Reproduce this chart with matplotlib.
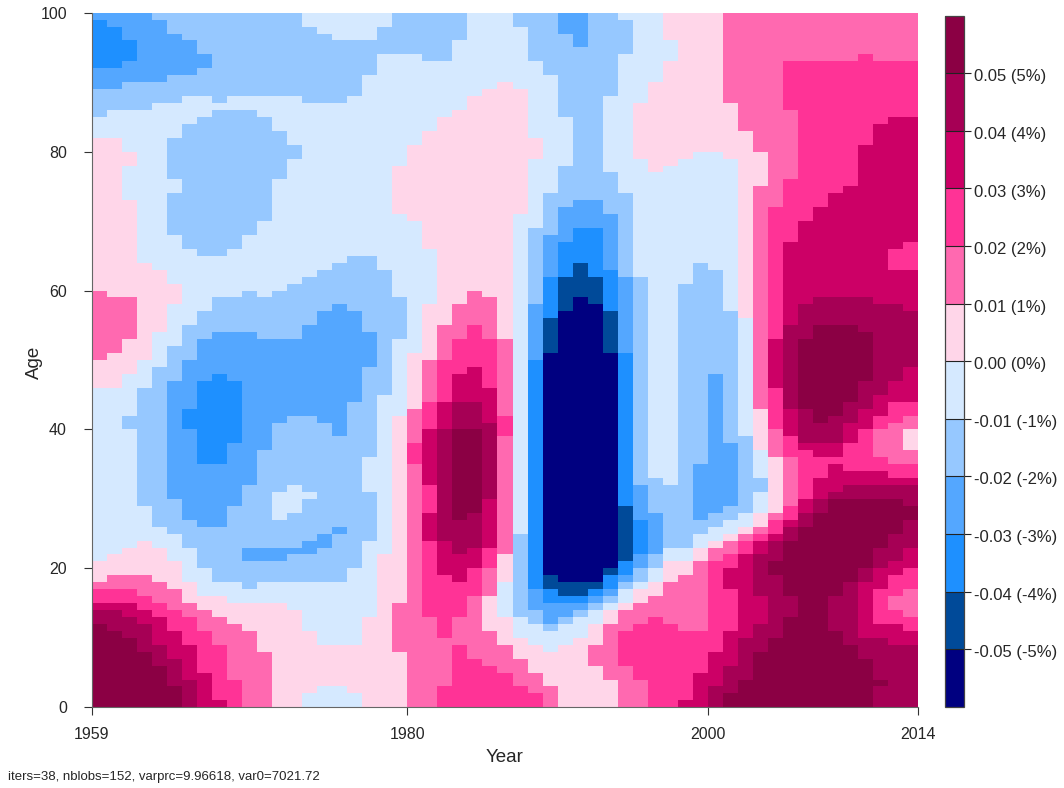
#!/usr/bin/env python3

"""Relative mortality change surface by year and age, on a binned colour scale."""

import matplotlib

matplotlib.use("Agg")

import matplotlib.pyplot as plt
import numpy as np
from matplotlib.colors import BoundaryNorm, ListedColormap
from matplotlib.transforms import ScaledTranslation

plt.rcParams["font.family"] = ["Liberation Sans", "DejaVu Sans"]

YEAR_EDGES = list(range(1959, 2015))
AGE_EDGES = list(range(0, 101))
YEAR_TICKS = [1959, 1980, 2000, 2014]
AGE_TICKS = [0, 20, 40, 60, 80, 100]

LEVELS = [-0.06, -0.05, -0.04, -0.03, -0.02, -0.01, 0.0, 0.01, 0.02, 0.03, 0.04, 0.05, 0.06]
LEVEL_COLORS = [
    "#000080", "#004a99", "#1e90ff", "#54a7ff", "#96c8ff", "#d5e9ff",
    "#ffd6e9", "#ff69b0", "#ff3396", "#cc0066", "#a60055", "#8b0044",
]
BAR_TICKS = [0.05, 0.04, 0.03, 0.02, 0.01, 0.0, -0.01, -0.02, -0.03, -0.04, -0.05]
BAR_LABELS = [
    "0.05 (5%)", "0.04 (4%)", "0.03 (3%)", "0.02 (2%)", "0.01 (1%)", "0.00 (0%)",
    "-0.01 (-1%)", "-0.02 (-2%)", "-0.03 (-3%)", "-0.04 (-4%)", "-0.05 (-5%)",
]
FOOTER = "iters=38, nblobs=152, varprc=9.96618, var0=7021.72"

# one string per year, bottom to top: bin letter (a = lowest bin) + age where it stops
YEAR_RUNS = [
    "l12 k14 j15 i17 h18 g21 f46 g50 h60 g82 f85 e89 d92 c99 d100",
    "l11 k14 j15 i17 h19 g22 f46 g51 h59 g82 f86 e89 d92 c98 d100",
    "l10 k13 j15 i17 h19 g23 f40 e42 f48 g53 h59 g73 f78 g80 f86 e90 d93 c96 d100",
    "l8 k12 j14 i16 h19 g24 f29 e46 f50 g64 f86 e90 d100",
    "l6 k9 j13 i15 h18 g23 f26 e49 f54 g63 f87 e90 d99 e100",
    "l3 k7 j11 i14 h17 g21 f25 e30 d47 e52 f58 g61 f68 e74 f76 e82 f87 e91 d97 e100",
    "k4 j9 i13 h15 g18 f23 e27 d40 c43 d50 e55 f66 e84 f88 e91 d96 e100",
    "j5 i11 h14 g16 f20 e26 d35 c47 d53 e57 f65 e85 f88 e92 d94 e100",
    "j1 i9 h13 g16 f18 e26 d35 c48 d54 e59 f65 e86 f87 e100",
    "i4 h12 g15 f18 e29 d38 c47 d54 e59 f66 e86 f88 e100",
    "h11 g15 f17 e21 d23 e32 d54 e60 f68 e86 f88 e100",
    "h8 g15 f18 e21 d23 e37 d53 e59 f70 e85 f88 e100",
    "g15 f18 e21 d23 e27 f31 e41 d53 e60 f76 e83 f88 e100",
    "g14 f18 e22 d23 e28 f32 e42 d53 e61 f79 e81 f88 e100",
    "f2 g11 f18 e22 d24 e30 f31 e42 d55 e62 f87 e98 f100",
    "f3 g9 f18 e23 d25 e41 d57 e63 f87 e97 f100",
    "f3 g9 f18 e25 d26 e39 d58 e64 f87 e96 f100",
    "f2 g9 f20 e44 d57 e65 f88 e96 f100",
    "g13 f24 e31 f36 e49 d54 e65 f91 e96 f100",
    "g22 f45 e63 f94 e98 f100",
    "g8 h15 g42 f53 e59 f71 g78 f94 e100",
    "h35 i38 h43 g51 f70 g81 f94 e100",
    "h13 i24 j28 i32 j40 i44 h50 g58 f66 g83 f93 e100",
    "i3 h10 i19 j24 k40 j44 i50 h55 g85 f93 e100",
    "i9 h13 i18 j22 k27 l40 k44 j48 i53 h58 g86 f96 e100",
    "i7 h16 i20 j23 k28 l40 k44 j49 i55 h60 g88 f100",
    "i6 h11 g16 h20 i23 j30 k41 j46 i53 h59 g89 f100",
    "i5 h9 g13 f18 g22 h39 i42 h53 g90 f100",
    "i3 h7 g10 f13 e25 f71 g89 f98 e100",
    "i2 h5 g9 f12 e14 d17 c50 d58 e69 f79 g82 f93 e100",
    "h3 g8 f11 e12 d15 c17 b19 a51 b56 c62 d68 e74 f91 e100",
    "g9 f12 e13 d15 c16 b18 a57 b62 c67 d72 e78 f85 e97 d100",
    "g10 f13 e14 d15 c16 b18 a59 b64 c69 d73 e95 d100",
    "g6 h9 g12 f14 e15 d16 c17 b18 a58 b62 c69 d73 e100",
    "g4 h12 g14 f15 e16 d17 c19 b20 a51 b57 c63 d71 e77 f88 e100",
    "h6 i11 h14 g15 f17 e18 d19 c21 b29 c51 d62 e74 f94 e99 f100",
    "h4 i12 h15 g17 f18 e20 d22 c27 d32 e62 f79 g87 f100",
    "i13 h16 g18 f20 e22 d28 e33 f77 g90 f100",
    "i12 h18 g21 f23 e32 f78 g93 f96 g100",
    "j1 i11 h19 g21 f23 e61 f79 g100",
    "j5 i11 h21 g23 f25 e27 d35 e64 f80 g100",
    "k3 j8 i21 h23 g24 f26 e28 d48 e63 f80 g100",
    "l2 k6 j11 i17 j20 i22 h24 g25 f27 e29 d38 e57 f79 g87 h100",
    "l4 k10 j22 i24 h25 g26 f28 e39 f56 g83 h100",
    "l8 k12 j16 k22 j24 i25 h26 g28 f31 e33 f37 g43 h75 g80 h100",
    "l10 k19 l21 k24 j25 i27 h28 g36 h40 i46 j53 i72 h100",
    "l13 k16 l24 k26 j27 i29 h36 i39 j43 k55 j67 i76 h86 i93 h100",
    "l26 k28 j30 i37 j38 k43 l53 k58 j70 i93 h100",
    "l28 k30 j33 i36 j38 k41 l55 k59 j72 i93 h100",
    "l11 k16 l30 k31 j35 i36 j38 k42 l55 k59 j74 i93 h100",
    "l9 k18 l30 k32 j34 i38 j41 k44 l55 k59 j75 i93 h100",
    "l7 k10 j18 k20 l30 k32 j34 i40 j43 k47 l54 k59 j81 i94 h100",
    "k3 l4 k10 j12 i17 j20 k23 l30 k32 j34 i36 h40 i42 j45 k58 j84 i93 h100",
    "k9 j12 i14 h16 i19 j21 k25 l30 k32 j33 i35 h41 i44 j47 k58 j63 i66 j85 i93 h100",
    "k9 j11 i13 h17 i20 j23 k27 l29 k32 j33 i35 h37 g40 h42 i44 j49 k57 j63 i67 j85 i93 h100",
]


def decode_runs(runs):
    bins = "abcdefghijkl"
    mids = [(LEVELS[i] + LEVELS[i + 1]) / 2 for i in range(len(bins))]
    z = np.zeros((len(AGE_EDGES) - 1, len(runs)))
    for col, text in enumerate(runs):
        start = 0
        for run in text.split():
            stop = int(run[1:])
            z[start:stop, col] = mids[bins.index(run[0])]
            start = stop
    return z


def main():
    width, height = 1064, 788
    fig = plt.figure(figsize=(width / 100, height / 100), dpi=100)

    ax = fig.add_axes([91.7 / width, 1 - 707.3 / height, 826.6 / width, 694.6 / height])
    cax = fig.add_axes([945 / width, 1 - 706.7 / height, 19 / width, 691 / height])

    cmap = ListedColormap(LEVEL_COLORS)
    norm = BoundaryNorm(LEVELS, cmap.N)
    mesh = ax.pcolormesh(YEAR_EDGES, AGE_EDGES, decode_runs(YEAR_RUNS), cmap=cmap, norm=norm,
                         antialiased=False, linewidth=0)

    ax.set_xlim(1959, 2014)
    ax.set_ylim(0, 100)
    ax.set_xticks(YEAR_TICKS)
    ax.set_yticks(AGE_TICKS)
    ax.tick_params(axis="both", labelsize=11.5, length=5.5, width=0.8, color="#333333",
                   labelcolor="#262626")
    ax.tick_params(axis="x", pad=9)
    ax.tick_params(axis="y", pad=12.3)
    for side in ("top", "right"):
        ax.spines[side].set_visible(False)
    for side in ("left", "bottom"):
        ax.spines[side].set_color("#666666")
        ax.spines[side].set_linewidth(0.8)

    fig.text(505 / width, 1 - 757.5 / height, "Year", fontsize=13.5, color="#262626",
             ha="center", va="center")
    fig.text(34 / width, 1 - 362 / height, "Age", fontsize=13.5, color="#262626",
             rotation=90, ha="center", va="center")
    fig.text(8 / width, 1 - 777 / height, FOOTER, fontsize=9.55, color="#262626",
             ha="left", va="center")

    bar = fig.colorbar(mesh, cax=cax, ticks=BAR_TICKS, spacing="proportional", drawedges=True)
    bar.ax.set_yticklabels(BAR_LABELS)
    bar.ax.minorticks_off()
    bar.ax.tick_params(labelsize=12, length=5, width=0.8, pad=2.5, color="#222222",
                       labelcolor="#262626")
    nudge = ScaledTranslation(0, -1.5 / 72, fig.dpi_scale_trans)
    for label in bar.ax.get_yticklabels():
        label.set_transform(label.get_transform() + nudge)
    bar.outline.set_edgecolor("#444444")
    bar.outline.set_linewidth(0.9)
    bar.dividers.set_color("#222222")
    bar.dividers.set_linewidth(0.8)

    fig.savefig("out.png", dpi=100)
    plt.close(fig)
    print("wrote out.png")


if __name__ == "__main__":
    main()
